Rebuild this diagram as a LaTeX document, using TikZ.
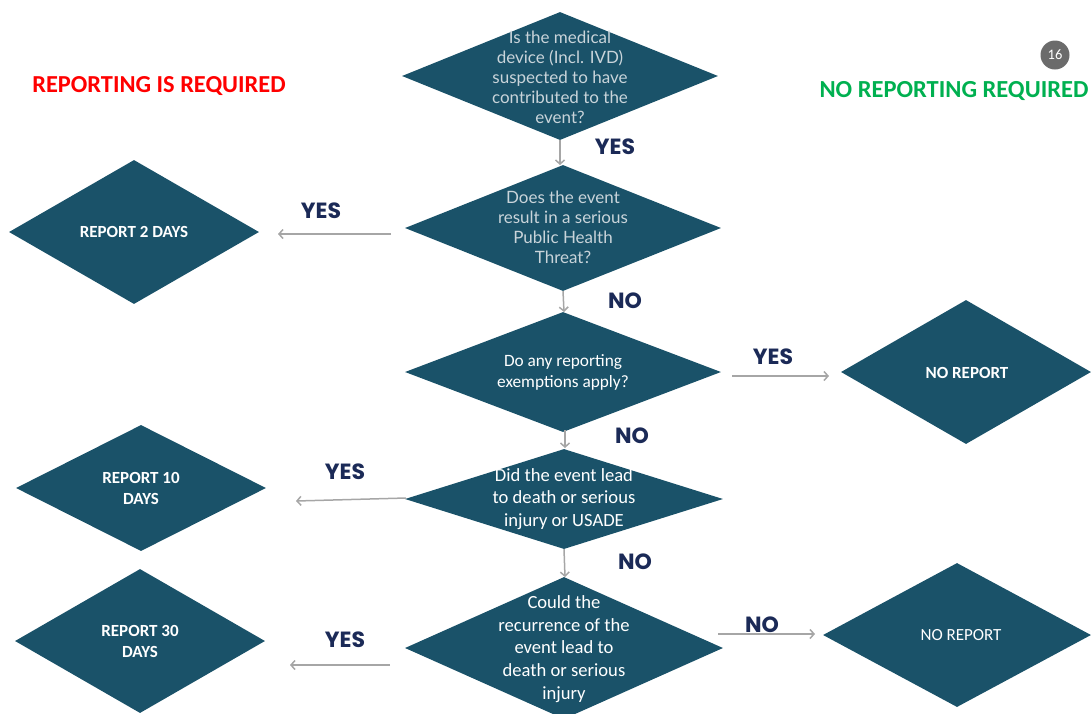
\documentclass[tikz,border=0pt]{standalone}
\usepackage{fontspec}
\setmainfont{Carlito}
\newfontfamily\pop{Poppins}
\newfontfamily\lato{Lato}
\usetikzlibrary{shapes.geometric,arrows.meta}
\definecolor{dfill}{HTML}{1A5269}
\definecolor{arr}{HTML}{A6A6A6}
\definecolor{lbl}{HTML}{1B2A57}
\definecolor{pale}{HTML}{C9D4DA}
\definecolor{redt}{HTML}{FF0000}
\definecolor{greent}{HTML}{00B050}
\definecolor{pg}{HTML}{6B6B6B}
\begin{document}
\begin{tikzpicture}[x=1pt,y=-1pt,
  dia/.style={diamond,fill=dfill,draw=none,inner sep=0pt,aspect=2},
  dtext/.style={align=center,text=white,font=\fontsize{18.6}{22.8}\selectfont},
  ptext/.style={align=center,text=pale,font=\fontsize{17}{20}\selectfont\lato},
  btext/.style={align=center,text=white,font=\fontsize{17}{21}\selectfont\bfseries},
  yn/.style={text=lbl,font=\fontsize{22}{26}\selectfont\pop\bfseries},
  conn/.style={draw=arr,line width=1.5pt,-{Straight Barb[length=4pt,width=9pt]}}]
\useasboundingbox (0,0) rectangle (1091,713);
% main diamonds
\node[dia,minimum width=316pt,minimum height=128pt] (d1) at (560,76) {};
\node[dia,minimum width=316pt,minimum height=126pt] (d2) at (563,228) {};
\node[dia,minimum width=316pt,minimum height=120pt] (d3) at (563,372) {};
\node[dia,minimum width=318pt,minimum height=100pt] (d4) at (564,499) {};
\node[dia,minimum width=318pt,minimum height=142pt] (d5) at (564,648) {};
% outcome diamonds
\node[dia,minimum width=250pt,minimum height=144pt] (l1) at (134,232) {};
\node[dia,minimum width=250pt,minimum height=126pt] (l2) at (141,488) {};
\node[dia,minimum width=250pt,minimum height=144pt] (l3) at (140,641) {};
\node[dia,minimum width=250pt,minimum height=144pt] (r1) at (966,372) {};
\node[dia,minimum width=268pt,minimum height=144pt] (r2) at (957,635) {};
% texts
\node[ptext] (d1t) at (560,77) {Is the medical\\device (Incl. IVD)\\suspected to have\\contributed to the\\event?};
\node[ptext] (d2t) at (563,227) {Does the event\\result in a serious\\Public Health\\Threat?};
\node[dtext,font=\fontsize{17.3}{21}\selectfont] (d3t) at (563,372) {Do any reporting\\exemptions apply?};
\node[dtext] (d4t) at (564,499) {Did the event lead\\to death or serious\\injury or USADE};
\node[dtext] (d5t) at (564,649) {Could the\\recurrence of the\\event lead to\\death or serious\\injury};
\node[btext] (l1t) at (134,232) {REPORT 2 DAYS};
\node[btext] (l2t) at (141,488) {REPORT 10\\DAYS};
\node[btext] (l3t) at (140,641) {REPORT 30\\DAYS};
\node[btext] (r1t) at (967,373) {NO REPORT};
\node[align=center,text=white,font=\fontsize{17}{21}\selectfont] (r2t) at (961,635) {NO REPORT};
% titles
\node[text=redt,font=\fontsize{24.4}{28}\selectfont\bfseries] (t1) at (159,86) {REPORTING IS REQUIRED};
\node[text=greent,font=\fontsize{24.5}{28}\selectfont\bfseries] (t2) at (954,91) {NO REPORTING REQUIRED};
\node[circle,fill=pg,minimum size=29pt,inner sep=0pt,text=white,font=\fontsize{14.5}{16}\selectfont] (pgn) at (1055,55) {16};
% connector endpoints
\coordinate (a1) at (560,165);
\coordinate (a2s) at (391,234); \coordinate (a2e) at (278,234);
\coordinate (a3) at (564,312);
\coordinate (a4s) at (732,376); \coordinate (a4e) at (829,376);
\coordinate (a5s) at (565,430); \coordinate (a5e) at (565,448);
\coordinate (a6s) at (406,498); \coordinate (a6e) at (296,501);
\coordinate (a7) at (565,577);
\coordinate (a8s) at (390,665); \coordinate (a8e) at (290,665);
\coordinate (a9s) at (718,634); \coordinate (a9e) at (815,634);
\draw[conn] (d1.south) -- (a1);
\draw[conn] (a2s) -- (a2e);
\draw[conn] (d2.south) -- (a3);
\draw[conn] (a4s) -- (a4e);
\draw[conn] (a5s) -- (a5e);
\draw[conn] (a6s) -- (a6e);
\draw[conn] (d4.south) -- (a7);
\draw[conn] (a8s) -- (a8e);
\draw[conn] (a9s) -- (a9e);
% labels
\node[yn] (y1) at (615,147) {YES};
\node[yn] (y2) at (321,211) {YES};
\node[yn] (n1) at (625,301) {NO};
\node[yn] (y3) at (773,357) {YES};
\node[yn] (n2) at (632,436) {NO};
\node[yn] (y4) at (345,472) {YES};
\node[yn] (n3) at (635,562) {NO};
\node[yn] (y5) at (345,640) {YES};
\node[yn] (n4) at (762,625) {NO};
\end{tikzpicture}
\end{document}
